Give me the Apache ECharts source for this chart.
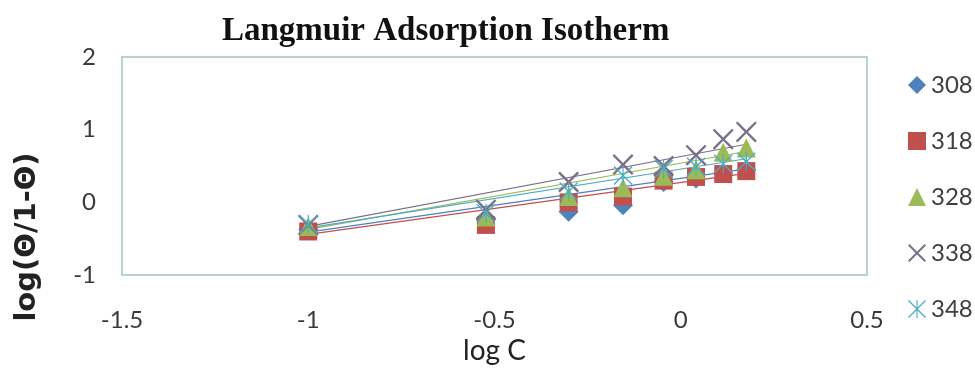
<!DOCTYPE html>
<html>
<head>
<meta charset="utf-8">
<script src="https://cdn.jsdelivr.net/npm/echarts@6/dist/echarts.min.js"></script>
<style>
  html, body { margin: 0; padding: 0; background: #ffffff; }
  #chart { width: 975px; height: 370px; }
</style>
</head>
<body>
<div id="chart"></div>
<script>
// log C values shared by every temperature series
const logC = [-1, -0.523, -0.301, -0.155, -0.046, 0.041, 0.114, 0.176];

// Temperatures (K), one series each
const temps = ['308', '318', '328', '338', '348'];

// log(θ/1-θ) readings per temperature
const y308 = [-0.37, -0.24, -0.13, -0.04, 0.28, 0.33, 0.40, 0.45];
const y318 = [-0.40, -0.31, 0.00, 0.08, 0.30, 0.35, 0.39, 0.43];
const y328 = [-0.33, -0.20, 0.08, 0.20, 0.36, 0.45, 0.69, 0.75];
const y338 = [-0.31, -0.10, 0.28, 0.52, 0.50, 0.65, 0.87, 0.97];
const y348 = [-0.30, -0.15, 0.15, 0.37, 0.46, 0.49, 0.53, 0.56];

// Linear trend lines: value at the first and at the last log C
const fitStart = [-0.41, -0.44, -0.37, -0.33, -0.35];
const fitEnd = [0.46, 0.40, 0.70, 0.80, 0.60];

// Axis ticks
const xTicks = [-1.5, -1, -0.5, 0, 0.5];
const yTicks = [-1, 0, 1, 2];

const values = [y308, y318, y328, y338, y348];
const colors = ['#4F81BD', '#C0504D', '#9BBB59', '#7A7189', '#4BACC6'];

const crossPath = 'path://M0,1.6 L1.6,0 L10,8.4 L18.4,0 L20,1.6 L11.6,10 L20,18.4 L18.4,20 L10,11.6 L1.6,20 L0,18.4 L8.4,10 Z';
const starPath = 'path://M0,1 L1,0 L10,9 L19,0 L20,1 L11,10 L20,19 L19,20 L10,11 L1,20 L0,19 L9,10 Z M9.4,0 L10.6,0 L10.6,20 L9.4,20 Z';
const symbols = ['diamond', 'rect', 'triangle', crossPath, starPath];
const symbolSizes = [20, 18, 19, 21, 19];

const chart = echarts.init(document.getElementById('chart'), null, { renderer: 'canvas' });

const fitSeries = temps.map((t, i) => ({
  name: t + ' trend',
  type: 'line',
  data: [[logC[0], fitStart[i]], [logC[logC.length - 1], fitEnd[i]]],
  showSymbol: false,
  symbol: 'none',
  lineStyle: { color: colors[i], width: 1.2 },
  z: 1,
  silent: true
}));

const pointSeries = temps.map((t, i) => ({
  name: t,
  type: 'scatter',
  data: logC.map((x, k) => [x, values[i][k]]),
  symbol: symbols[i],
  symbolSize: symbolSizes[i],
  itemStyle: { color: colors[i], opacity: 1 },
  z: 2 + i
}));

chart.setOption({
  animation: false,
  backgroundColor: '#ffffff',
  title: {
    text: 'Langmuir Adsorption Isotherm',
    left: 222,
    top: 15,
    padding: 0,
    textStyle: {
      fontFamily: 'Liberation Serif',
      fontWeight: 'bold',
      fontSize: 33,
      color: '#111111'
    }
  },
  legend: {
    data: temps,
    orient: 'vertical',
    left: 908,
    top: 73,
    itemGap: 32,
    itemWidth: 18,
    itemHeight: 18,
    padding: 0,
    textStyle: {
      fontFamily: 'Lato',
      fontSize: 24,
      lineHeight: 24,
      color: '#404040'
    }
  },
  grid: {
    left: 122,
    right: 108,
    top: 57,
    bottom: 78,
    show: true,
    borderColor: '#9EC3C4',
    borderWidth: 1.5,
    backgroundColor: '#ffffff'
  },
  xAxis: {
    type: 'value',
    min: xTicks[0],
    max: xTicks[xTicks.length - 1],
    interval: xTicks[1] - xTicks[0],
    name: 'log C',
    nameLocation: 'middle',
    nameGap: 44,
    nameTextStyle: { fontFamily: 'Lato', fontSize: 28, color: '#222222' },
    axisLine: { show: false },
    axisTick: { show: false },
    splitLine: { show: false },
    axisLabel: {
      margin: 33,
      fontFamily: 'Lato',
      fontSize: 24,
      color: '#3a3a3a',
      formatter: v => String(v)
    }
  },
  yAxis: {
    type: 'value',
    min: yTicks[0],
    max: yTicks[yTicks.length - 1],
    interval: yTicks[1] - yTicks[0],
    axisLine: { show: false },
    axisTick: { show: false },
    splitLine: { show: false },
    axisLabel: {
      margin: 26,
      fontFamily: 'Lato',
      fontSize: 24,
      color: '#3a3a3a'
    }
  },
  graphic: [{
    type: 'text',
    x: 27,
    y: 237,
    rotation: Math.PI / 2,
    style: {
      text: 'log(Θ/1-Θ)',
      font: 'bold 29px "DejaVu Sans"',
      fill: '#222222',
      textAlign: 'center',
      textVerticalAlign: 'middle'
    }
  }],
  series: fitSeries.concat(pointSeries)
});
</script>
</body>
</html>
